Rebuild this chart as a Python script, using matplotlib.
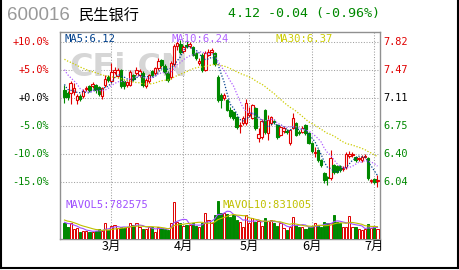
import numpy as np
import pandas as pd
import matplotlib
matplotlib.use('Agg')
import matplotlib.pyplot as plt
from matplotlib.patches import Rectangle
from matplotlib.lines import Line2D
from matplotlib.transforms import blended_transform_factory

plt.rcParams['font.family'] = ['DejaVu Sans Mono', 'Noto Sans CJK SC']

# 600016 daily bars, Feb .. 2 Jul (trading days only)
opens = [7.211, 7.173, 7.173, 7.186, 7.083, 7.134, 7.134, 7.224, 7.262, 7.262,
         7.275, 7.250, 7.134, 7.275, 7.377, 7.326, 7.441, 7.390, 7.466, 7.326,
         7.275, 7.275, 7.402, 7.428, 7.402, 7.428, 7.262, 7.326, 7.453, 7.428,
         7.492, 7.594, 7.517, 7.428, 7.377, 7.543, 7.773, 7.798, 7.709, 7.786,
         7.773, 7.760, 7.683, 7.556, 7.658, 7.466, 7.658, 7.696, 7.683, 7.377,
         7.147, 7.109, 7.083, 6.956, 6.930, 6.866, 6.751, 6.790, 6.790, 6.892,
         6.853, 6.981, 6.598, 6.611, 6.956, 6.662, 6.790, 6.815, 6.764, 6.636,
         6.687, 6.687, 6.534, 6.726, 6.790, 6.674, 6.674, 6.764, 6.662, 6.534,
         6.406, 6.445, 6.317, 6.151, 6.100, 6.087, 6.253, 6.240, 6.240, 6.202,
         6.228, 6.368, 6.381, 6.355, 6.330, 6.317, 6.355, 6.343, 6.049, 6.074,
         6.049]
highs = [7.275, 7.200, 7.326, 7.300, 7.160, 7.160, 7.220, 7.260, 7.280, 7.310,
         7.290, 7.270, 7.250, 7.400, 7.400, 7.556, 7.500, 7.490, 7.480, 7.340,
         7.330, 7.470, 7.420, 7.500, 7.480, 7.450, 7.360, 7.420, 7.470, 7.510,
         7.620, 7.610, 7.540, 7.450, 7.580, 7.800, 7.850, 7.850, 7.790, 7.850,
         7.820, 7.780, 7.700, 7.620, 7.680, 7.710, 7.730, 7.750, 7.700, 7.400,
         7.170, 7.170, 7.100, 6.990, 6.950, 6.880, 6.800, 6.880, 7.096, 7.000,
         7.040, 7.000, 6.726, 6.840, 6.970, 6.892, 6.880, 6.840, 6.780, 6.760,
         6.750, 6.710, 6.720, 6.920, 6.810, 6.700, 6.750, 6.780, 6.680, 6.550,
         6.483, 6.460, 6.330, 6.170, 6.120, 6.445, 6.270, 6.260, 6.260, 6.240,
         6.420, 6.430, 6.420, 6.370, 6.360, 6.390, 6.400, 6.360, 6.080, 6.090,
         6.125]
lows = [7.045, 7.090, 7.032, 7.150, 7.040, 7.070, 7.110, 7.200, 7.190, 7.240,
        7.180, 7.130, 7.100, 7.250, 7.310, 7.300, 7.420, 7.370, 7.240, 7.230,
        7.250, 7.260, 7.330, 7.400, 7.380, 7.250, 7.240, 7.300, 7.380, 7.410,
        7.470, 7.500, 7.420, 7.310, 7.350, 7.520, 7.720, 7.670, 7.680, 7.750,
        7.750, 7.640, 7.600, 7.530, 7.440, 7.450, 7.640, 7.680, 7.520, 7.060,
        6.980, 7.090, 6.940, 6.850, 6.830, 6.720, 6.660, 6.770, 6.770, 6.870,
        6.840, 6.700, 6.547, 6.590, 6.650, 6.572, 6.770, 6.780, 6.590, 6.620,
        6.670, 6.650, 6.510, 6.710, 6.620, 6.640, 6.660, 6.640, 6.520, 6.410,
        6.355, 6.300, 6.230, 6.023, 5.997, 6.070, 6.140, 6.150, 6.170, 6.180,
        6.210, 6.350, 6.360, 6.300, 6.310, 6.300, 6.340, 6.070, 6.030, 6.020,
        5.972]
closes = [7.122, 7.122, 7.300, 7.237, 7.134, 7.096, 7.198, 7.237, 7.211, 7.288,
          7.211, 7.160, 7.237, 7.351, 7.339, 7.441, 7.466, 7.466, 7.262, 7.262,
          7.313, 7.441, 7.351, 7.466, 7.453, 7.275, 7.339, 7.402, 7.402, 7.492,
          7.581, 7.530, 7.441, 7.339, 7.556, 7.773, 7.811, 7.696, 7.760, 7.773,
          7.798, 7.658, 7.619, 7.581, 7.466, 7.683, 7.696, 7.722, 7.543, 7.083,
          7.083, 7.147, 6.956, 6.879, 6.853, 6.738, 6.764, 6.853, 7.045, 6.917,
          7.019, 6.726, 6.649, 6.815, 6.674, 6.828, 6.866, 6.802, 6.611, 6.738,
          6.726, 6.674, 6.700, 6.853, 6.636, 6.670, 6.726, 6.662, 6.534, 6.432,
          6.419, 6.317, 6.253, 6.061, 6.087, 6.343, 6.164, 6.164, 6.189, 6.215,
          6.394, 6.394, 6.394, 6.317, 6.343, 6.355, 6.368, 6.087, 6.061, 6.036,
          6.061]
volumes = [1059000, 830000, 1059000, 675000, 722000, 492000, 560000, 560000, 492000, 492000,
           540000, 654000, 560000, 1059000, 607000, 877000, 944000, 722000, 789000, 742000,
           830000, 1059000, 944000, 1100000, 789000, 654000, 654000, 789000, 789000, 492000,
           789000, 722000, 654000, 607000, 1059000, 2476000, 1167000, 1059000, 877000, 944000,
           944000, 1059000, 877000, 830000, 1059000, 1754000, 1282000, 1059000, 1619000, 2564000,
           1734000, 1774000, 1687000, 1504000, 1619000, 1282000, 1167000, 789000, 1619000, 1059000,
           1396000, 1167000, 1235000, 877000, 1396000, 1235000, 1282000, 1059000, 877000, 1059000,
           722000, 607000, 789000, 1504000, 944000, 789000, 830000, 654000, 830000, 877000,
           1059000, 944000, 830000, 1167000, 1100000, 1059000, 1619000, 1167000, 1059000, 830000,
           810000, 1552000, 789000, 830000, 654000, 607000, 654000, 1012000, 722000, 877000,
           654000]
# closes / volumes of the sessions before the window (needed by the moving averages)
pre_closes = [7.80, 7.82, 7.78, 7.75, 7.72, 7.70, 7.74, 7.68, 7.62, 7.58,
              7.60, 7.64, 7.66, 7.62, 7.60, 7.58, 7.62, 7.66, 7.64, 7.62,
              7.75, 7.70, 7.62, 7.55, 7.68, 7.45, 7.35, 7.28, 7.22]
pre_volumes = [1550000, 1400000, 1380000, 1450000, 1385000, 1250000, 1120000, 1100000, 1106000]

month_pos = [15, 38, 59, 79, 99]
month_labels = ['3月', '4月', '5月', '6月', '7月']
base_price = 7.11
pct_levels = [10, 5, 0, -5, -10, -15]
legend_ma = ['MA5:6.12', 'MA10:6.24', 'MA30:6.37']
legend_vol = ['MAVOL5:782575', 'MAVOL10:831005']

RED = '#e00000'
GREEN = '#008800'
GRID = '#a0a0a0'

n = len(closes)
x = np.arange(n)
all_c = pd.Series(pre_closes + closes)
all_v = pd.Series(pre_volumes + volumes)
ma5 = all_c.rolling(5).mean().values[-n:]
ma10 = all_c.rolling(10).mean().values[-n:]
ma30 = all_c.rolling(30).mean().values[-n:]
mavol5 = all_v.rolling(5).mean().values[-n:]
mavol10 = all_v.rolling(10).mean().values[-n:]

W, H = 460, 270
fig = plt.figure(figsize=(W / 100, H / 100), dpi=100)
fig.patch.set_facecolor('white')


def fx(px):
    return px / W


def fy(py):
    return 1 - py / H


box = [fx(60), fy(239), fx(380) - fx(60), fy(32) - fy(239)]
ax = fig.add_axes(box)
ax.set_facecolor('white')
ax.set_xlim(-1.42, 100.8)
levels = [base_price * (1 + p / 100) for p in pct_levels]
step = base_price * 0.05 / 27.88
ax.set_ylim(levels[-1] - 57.3 * step, levels[0] + 10.3 * step)

for s in ax.spines.values():
    s.set_color('#909090')
    s.set_linewidth(1.0)

# grid
for lv in levels:
    ax.axhline(lv, color=GRID, lw=0.75, ls=(0, (1, 1.6)), zorder=0)
for mp in month_pos:
    ax.axvline(mp, color=GRID, lw=0.75, ls=(0, (1, 1.6)), zorder=0)

# watermark
ax.text(fx(69), fy(76), 'CFi.CN', transform=fig.transFigure, fontsize=23,
        fontweight='bold', color='#d6d6d6', family='DejaVu Sans', zorder=0.5)

# candles
bw = 0.8
for i in range(n):
    o, h, l, c = opens[i], highs[i], lows[i], closes[i]
    col = RED if c >= o else GREEN
    top, bot = max(o, c), min(o, c)
    ax.plot([i, i], [top, h], color=col, lw=0.8, zorder=2, solid_capstyle='butt')
    ax.plot([i, i], [l, bot], color=col, lw=0.8, zorder=2, solid_capstyle='butt')
    if top - bot < 0.004:
        ax.plot([i - bw / 2, i + bw / 2], [c, c], color=col, lw=0.9, zorder=3)
    else:
        ax.add_patch(Rectangle((i - bw / 2, bot), bw, top - bot,
                               facecolor='white' if c >= o else col,
                               edgecolor=col, lw=0.8, zorder=3))

ax.plot(x, ma5, color='#00408c', lw=0.9, ls=(0, (1, 1.4)), zorder=4)
ax.plot(x, ma10, color='#b060ff', lw=0.9, ls=(0, (1, 1.4)), zorder=4)
ax.plot(x, ma30, color='#cccc00', lw=0.9, ls=(0, (1, 1.4)), zorder=4)

# left / right labels
ax.set_yticks([])
ax.set_xticks(month_pos)
ax.set_xticklabels(month_labels, fontsize=9, family='Noto Sans CJK SC')
ax.tick_params(axis='x', length=0, pad=1)
side = blended_transform_factory(fig.transFigure, ax.transData)
pct_cols = [RED, RED, 'black', GREEN, GREEN, GREEN]
for p, lv, col in zip(pct_levels, levels, pct_cols):
    ax.text(fx(49), lv, '%+.1f%%' % p, transform=side,
            ha='right', va='center', fontsize=7.4, color=col)
    ax.text(fx(383), lv, '%.2f' % lv, transform=side,
            ha='left', va='center', fontsize=7.4, color=col)

# volume panel
vax = fig.add_axes(box, sharex=ax)
vax.patch.set_alpha(0)
vax.set_ylim(0, 207 * 67463)
vax.axis('off')
for i in range(n):
    up = closes[i] >= opens[i]
    col = RED if up else GREEN
    vax.add_patch(Rectangle((i - 0.35, 0), 0.7, volumes[i],
                            facecolor='white' if up else col, edgecolor=col, lw=0.7))
vax.plot(x, mavol5, color='#a050ff', lw=0.8)
vax.plot(x, mavol10, color='#c0c000', lw=0.8)

# legends
fig.text(fx(65), fy(38.5), legend_ma[0], color='#00408c', fontsize=7.6, va='center')
fig.text(fx(172), fy(38.5), legend_ma[1], color='#b060ff', fontsize=7.6, va='center')
fig.text(fx(276), fy(38.5), legend_ma[2], color='#cccc00', fontsize=7.6, va='center')
fig.text(fx(66), fy(205.5), legend_vol[0], color='#a050ff', fontsize=7.6, va='center')
fig.text(fx(223), fy(205.5), legend_vol[1], color='#c0c000', fontsize=7.6, va='center')

# header
fig.text(fx(7), fy(16), '600016', color='#999999', fontsize=13.5, va='center',
         family='Liberation Sans')
fig.text(fx(79), fy(15), '民生银行', color='black', fontsize=11, va='center',
         family='Noto Sans CJK SC')
fig.text(fx(228), fy(14), '4.12 -0.04 (-0.96%)', color='#008800', fontsize=9.6, va='center')

# outer frame
fig.add_artist(Line2D([fx(0.5), fx(0.5)], [fy(0), fy(268)], color='black', lw=1.5))
fig.add_artist(Line2D([fx(458), fx(458)], [fy(0), fy(268)], color='black', lw=1.5))
fig.add_artist(Line2D([fx(0), fx(459)], [fy(268), fy(268)], color='black', lw=1.5))

fig.savefig('out.png', dpi=100)
